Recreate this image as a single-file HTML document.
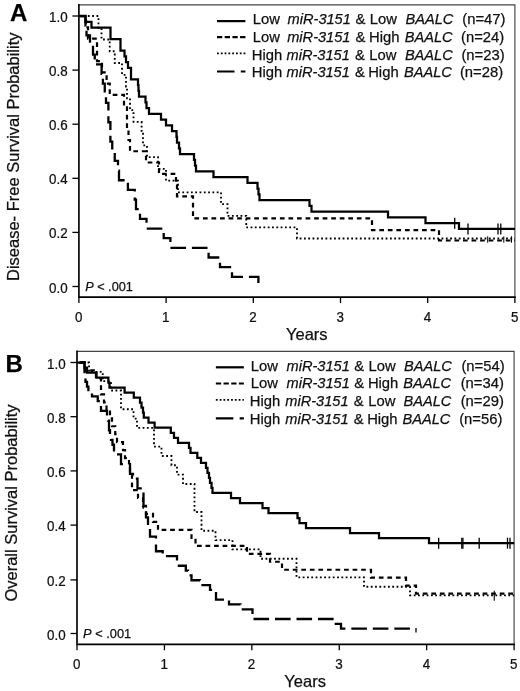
<!DOCTYPE html>
<html lang="en"><head><meta charset="utf-8"><title>Survival curves</title>
<style>html,body{margin:0;padding:0;background:#fff}svg{display:block}text{stroke:#111;stroke-width:.25px}</style></head>
<body>
<svg width="520" height="691" viewBox="0 0 520 691" font-family="'Liberation Sans', Arial, sans-serif" fill="#111">
<rect width="520" height="691" fill="#fff"/>
<path d="M78.90 4.90 H514.90 V297.10" fill="none" stroke="#444" stroke-width="1.15"/><path d="M78.90 4.90 V297.10 H514.90" fill="none" stroke="#000" stroke-width="1.65" stroke-linecap="square"/><line x1="72.40" x2="78.90" y1="16.00" y2="16.00" stroke="#000" stroke-width="1.3"/><text transform="translate(67.60,22.00) scale(0.93,1)" text-anchor="end" font-size="14.4">1.0</text><line x1="72.40" x2="78.90" y1="70.10" y2="70.10" stroke="#000" stroke-width="1.3"/><text transform="translate(67.60,76.10) scale(0.93,1)" text-anchor="end" font-size="14.4">0.8</text><line x1="72.40" x2="78.90" y1="124.20" y2="124.20" stroke="#000" stroke-width="1.3"/><text transform="translate(67.60,130.20) scale(0.93,1)" text-anchor="end" font-size="14.4">0.6</text><line x1="72.40" x2="78.90" y1="178.30" y2="178.30" stroke="#000" stroke-width="1.3"/><text transform="translate(67.60,184.30) scale(0.93,1)" text-anchor="end" font-size="14.4">0.4</text><line x1="72.40" x2="78.90" y1="232.40" y2="232.40" stroke="#000" stroke-width="1.3"/><text transform="translate(67.60,238.40) scale(0.93,1)" text-anchor="end" font-size="14.4">0.2</text><line x1="72.40" x2="78.90" y1="286.50" y2="286.50" stroke="#000" stroke-width="1.3"/><text transform="translate(67.60,292.50) scale(0.93,1)" text-anchor="end" font-size="14.4">0.0</text><line x1="78.90" x2="78.90" y1="297.10" y2="303.10" stroke="#000" stroke-width="1.3"/><text transform="translate(78.60,321.70) scale(0.93,1)" text-anchor="middle" font-size="14.4">0</text><line x1="166.10" x2="166.10" y1="297.10" y2="303.10" stroke="#000" stroke-width="1.3"/><text transform="translate(165.80,321.70) scale(0.93,1)" text-anchor="middle" font-size="14.4">1</text><line x1="253.30" x2="253.30" y1="297.10" y2="303.10" stroke="#000" stroke-width="1.3"/><text transform="translate(253.00,321.70) scale(0.93,1)" text-anchor="middle" font-size="14.4">2</text><line x1="340.50" x2="340.50" y1="297.10" y2="303.10" stroke="#000" stroke-width="1.3"/><text transform="translate(340.20,321.70) scale(0.93,1)" text-anchor="middle" font-size="14.4">3</text><line x1="427.70" x2="427.70" y1="297.10" y2="303.10" stroke="#000" stroke-width="1.3"/><text transform="translate(427.40,321.70) scale(0.93,1)" text-anchor="middle" font-size="14.4">4</text><line x1="514.90" x2="514.90" y1="297.10" y2="303.10" stroke="#000" stroke-width="1.3"/><text transform="translate(514.60,321.70) scale(0.93,1)" text-anchor="middle" font-size="14.4">5</text>
<path d="M78.90 16.00 H98.50 V27.76 H101.50 V39.52 H109.75 V51.28 H114.75 V63.04 H122.00 V74.80 H126.00 V86.57 H127.00 V98.33 H130.00 V110.09 H133.50 V121.85 H141.60 V133.61 H143.00 V145.37 H147.00 V157.13 H158.00 V168.89 H166.00 V180.65 H178.00 V192.41 H221.00 V204.17 H227.50 V215.93 H246.25 V227.40 H297.00 V238.50 H514.90" fill="none" stroke="#000" stroke-width="1.85" stroke-dasharray="1.8 2.5" stroke-dashoffset="3.95"/>
<path d="M78.90 16.00 H86.00 V27.27 H88.00 V38.54 H97.00 V61.08 H102.00 V72.35 H106.60 V83.62 H109.75 V94.90 H124.00 V106.17 H127.00 V128.71 H128.50 V139.98 H130.00 V151.25 H146.00 V162.52 H159.00 V173.79 H176.00 V185.06 H177.00 V196.33 H193.00 V218.40 H372.00 V230.15 H439.00 V240.50 H514.90" fill="none" stroke="#000" stroke-width="2.2" stroke-dasharray="4.7 3.85" stroke-dashoffset="7.00"/>
<path d="M78.90 16.00 H85.50 V25.66 H86.50 V35.32 H90.00 V44.98 H93.00 V54.64 H94.75 V64.30 H101.60 V73.96 H102.90 V83.62 H104.75 V93.29 H106.00 V102.95 H108.40 V122.27 H110.40 V141.59 H112.25 V151.25 H114.75 V160.91 H118.00 V170.57 H119.00 V180.23 H127.90 V189.89 H134.75 V199.55 H136.00 V209.21 H140.00 V218.88 H146.50 V228.54 H163.70 V238.20 H170.40 V247.86 H208.60 V257.52 H220.00 V267.18 H232.00 V276.84 H258.40 V284.00" fill="none" stroke="#000" stroke-width="2.3" stroke-dasharray="15.6 5.9" stroke-dashoffset="20.64"/>
<path d="M78.90 16.00 H85.50 V21.76 H91.50 V27.51 H110.50 V39.02 H120.50 V50.53 H124.50 V56.29 H126.00 V62.04 H128.00 V67.80 H131.00 V79.31 H138.00 V85.06 H138.50 V90.82 H139.00 V96.57 H145.50 V102.33 H146.50 V108.09 H149.00 V113.84 H161.00 V119.60 H166.00 V125.35 H172.00 V131.11 H176.50 V136.86 H177.00 V142.62 H179.00 V148.37 H180.00 V154.13 H194.00 V159.88 H195.00 V165.64 H196.00 V171.39 H213.50 V177.15 H247.50 V182.90 H257.50 V188.66 H258.50 V194.41 H259.50 V200.17 H309.50 V205.93 H311.50 V211.68 H388.00 V217.44 H425.50 V223.19 H459.00 V228.95 H514.90" fill="none" stroke="#000" stroke-width="2.25" stroke-linejoin="miter"/>
<line x1="454.70" x2="454.70" y1="217.69" y2="228.69" stroke="#000" stroke-width="1.3"/><line x1="468.00" x2="468.00" y1="223.45" y2="234.45" stroke="#000" stroke-width="1.3"/><line x1="498.00" x2="498.00" y1="223.45" y2="234.45" stroke="#000" stroke-width="1.3"/><line x1="500.80" x2="500.80" y1="223.45" y2="234.45" stroke="#000" stroke-width="1.3"/>
<line x1="487.70" x2="487.70" y1="236.30" y2="242.70" stroke="#000" stroke-width="1"/><line x1="503.80" x2="503.80" y1="236.30" y2="242.70" stroke="#000" stroke-width="1"/><line x1="511.50" x2="511.50" y1="236.30" y2="242.70" stroke="#000" stroke-width="1"/>
<path d="M217.00 21.10 H245.40" fill="none" stroke="#000" stroke-width="2.25" stroke-linejoin="miter"/><text x="252.80" y="24.20" font-size="14.8">Low</text><text x="287.60" y="24.20" font-size="14.6" font-style="italic">miR-3151</text><text x="355.45" y="24.20" font-size="14.8">&amp;</text><text x="369.80" y="24.20" font-size="14.8">Low</text><text x="405.50" y="24.20" font-size="14.6" font-style="italic">BAALC</text><text x="462.25" y="24.20" font-size="14.8">(n=47)</text><path d="M217.00 37.20 H245.40" fill="none" stroke="#000" stroke-width="2.2" stroke-dasharray="5.3 2.4"/><text x="252.80" y="41.50" font-size="14.8">Low</text><text x="287.20" y="41.50" font-size="14.6" font-style="italic">miR-3151</text><text x="355.45" y="41.50" font-size="14.8">&amp;</text><text x="369.00" y="41.50" font-size="14.8">High</text><text x="404.70" y="41.50" font-size="14.6" font-style="italic">BAALC</text><text x="461.00" y="41.50" font-size="14.8">(n=24)</text><path d="M217.00 53.40 H245.40" fill="none" stroke="#000" stroke-width="1.9" stroke-dasharray="1.8 2.0"/><text x="251.80" y="59.50" font-size="14.8">High</text><text x="286.50" y="59.50" font-size="14.6" font-style="italic">miR-3151</text><text x="355.00" y="59.50" font-size="14.8">&amp;</text><text x="369.30" y="59.50" font-size="14.8">Low</text><text x="404.90" y="59.50" font-size="14.6" font-style="italic">BAALC</text><text x="461.45" y="59.50" font-size="14.8">(n=23)</text><path d="M217.00 71.50 H245.40" fill="none" stroke="#000" stroke-width="2.1" stroke-dasharray="17.5 6.3 4.6 20"/><text x="251.80" y="77.30" font-size="14.8">High</text><text x="286.60" y="77.30" font-size="14.6" font-style="italic">miR-3151</text><text x="355.00" y="77.30" font-size="14.8">&amp;</text><text x="368.20" y="77.30" font-size="14.8">High</text><text x="403.95" y="77.30" font-size="14.6" font-style="italic">BAALC</text><text x="459.95" y="77.30" font-size="14.8">(n=28)</text>
<text x="10" y="20.9" font-size="24" font-weight="bold" fill="#000">A</text>
<text transform="translate(18.7,281.0) rotate(-90)" font-size="16.5">Disease- Free Survival Probability</text>
<text x="286" y="340" font-size="16.5">Years</text>
<text x="85.2" y="290.8" font-size="12.7"><tspan font-style="italic">P</tspan> &lt; .001</text>
<path d="M77.00 351.40 H514.10 V644.30" fill="none" stroke="#444" stroke-width="1.15"/><path d="M77.00 351.40 V644.30 H514.10" fill="none" stroke="#000" stroke-width="1.65" stroke-linecap="square"/><line x1="70.50" x2="77.00" y1="362.50" y2="362.50" stroke="#000" stroke-width="1.3"/><text transform="translate(65.70,368.50) scale(0.93,1)" text-anchor="end" font-size="14.4">1.0</text><line x1="70.50" x2="77.00" y1="416.70" y2="416.70" stroke="#000" stroke-width="1.3"/><text transform="translate(65.70,422.70) scale(0.93,1)" text-anchor="end" font-size="14.4">0.8</text><line x1="70.50" x2="77.00" y1="470.90" y2="470.90" stroke="#000" stroke-width="1.3"/><text transform="translate(65.70,476.90) scale(0.93,1)" text-anchor="end" font-size="14.4">0.6</text><line x1="70.50" x2="77.00" y1="525.10" y2="525.10" stroke="#000" stroke-width="1.3"/><text transform="translate(65.70,531.10) scale(0.93,1)" text-anchor="end" font-size="14.4">0.4</text><line x1="70.50" x2="77.00" y1="579.90" y2="579.90" stroke="#000" stroke-width="1.3"/><text transform="translate(65.70,585.90) scale(0.93,1)" text-anchor="end" font-size="14.4">0.2</text><line x1="70.50" x2="77.00" y1="633.50" y2="633.50" stroke="#000" stroke-width="1.3"/><text transform="translate(65.70,639.50) scale(0.93,1)" text-anchor="end" font-size="14.4">0.0</text><line x1="77.00" x2="77.00" y1="644.30" y2="650.30" stroke="#000" stroke-width="1.3"/><text transform="translate(76.70,668.80) scale(0.93,1)" text-anchor="middle" font-size="14.4">0</text><line x1="164.42" x2="164.42" y1="644.30" y2="650.30" stroke="#000" stroke-width="1.3"/><text transform="translate(164.12,668.80) scale(0.93,1)" text-anchor="middle" font-size="14.4">1</text><line x1="251.84" x2="251.84" y1="644.30" y2="650.30" stroke="#000" stroke-width="1.3"/><text transform="translate(251.54,668.80) scale(0.93,1)" text-anchor="middle" font-size="14.4">2</text><line x1="339.26" x2="339.26" y1="644.30" y2="650.30" stroke="#000" stroke-width="1.3"/><text transform="translate(338.96,668.80) scale(0.93,1)" text-anchor="middle" font-size="14.4">3</text><line x1="426.68" x2="426.68" y1="644.30" y2="650.30" stroke="#000" stroke-width="1.3"/><text transform="translate(426.38,668.80) scale(0.93,1)" text-anchor="middle" font-size="14.4">4</text><line x1="514.10" x2="514.10" y1="644.30" y2="650.30" stroke="#000" stroke-width="1.3"/><text transform="translate(513.80,668.80) scale(0.93,1)" text-anchor="middle" font-size="14.4">5</text>
<path d="M77.00 362.50 H89.00 V371.84 H102.75 V381.19 H111.00 V390.53 H121.00 V409.22 H133.50 V418.57 H137.00 V427.91 H154.00 V446.60 H161.50 V455.95 H171.50 V465.29 H177.00 V474.64 H183.00 V483.98 H194.50 V512.02 H201.50 V530.71 H215.50 V540.05 H232.50 V549.40 H260.50 V558.74 H296.50 V577.43 H364.00 V586.78 H410.00 V595.40 H514.10" fill="none" stroke="#000" stroke-width="1.85" stroke-dasharray="1.8 2.5" stroke-dashoffset="2.27"/>
<path d="M77.00 362.50 H85.00 V370.47 H96.00 V378.44 H101.00 V394.38 H104.00 V402.35 H106.50 V410.32 H110.00 V418.29 H112.00 V426.26 H115.25 V434.24 H117.00 V442.21 H123.00 V450.18 H125.00 V458.15 H129.00 V466.12 H130.00 V474.09 H132.00 V490.03 H138.00 V498.00 H143.00 V505.97 H146.00 V513.94 H153.00 V521.91 H158.00 V529.88 H191.50 V537.85 H195.50 V545.82 H247.00 V553.79 H270.00 V561.76 H282.00 V569.74 H371.00 V577.71 H406.00 V585.68 H416.00 V593.60 H514.10" fill="none" stroke="#000" stroke-width="2.2" stroke-dasharray="4.7 3.85" stroke-dashoffset="4.51"/>
<path d="M77.00 362.50 H84.50 V372.18 H85.50 V381.86 H87.00 V386.70 H88.40 V391.54 H92.00 V396.38 H97.75 V401.21 H101.00 V410.89 H107.00 V415.73 H108.00 V420.57 H109.00 V430.25 H110.00 V435.09 H111.00 V439.93 H112.50 V444.77 H114.00 V454.45 H121.00 V464.12 H130.00 V473.80 H133.00 V478.64 H137.50 V488.32 H143.50 V507.68 H146.00 V517.36 H148.00 V527.04 H150.00 V536.71 H156.00 V551.23 H162.70 V556.07 H177.00 V565.75 H185.80 V570.59 H188.00 V575.43 H191.50 V580.27 H200.00 V585.11 H210.00 V589.95 H216.00 V599.62 H229.00 V604.46 H240.50 V609.30 H252.50 V618.98 H334.00 V623.82 H341.00 V628.66 H411.00" fill="none" stroke="#000" stroke-width="2.3" stroke-dasharray="15.6 5.9" stroke-dashoffset="18.52"/>
<line x1="416" x2="416" y1="628" y2="632.5" stroke="#000" stroke-width="1.3"/>
<path d="M77.00 362.50 H84.60 V367.52 H87.00 V372.54 H96.50 V377.56 H108.40 V382.57 H109.50 V387.59 H124.60 V392.61 H133.80 V397.63 H140.00 V402.65 H141.50 V407.67 H143.00 V412.69 H143.80 V417.70 H148.50 V422.72 H154.60 V427.74 H170.80 V432.76 H174.00 V437.78 H178.00 V442.80 H189.00 V447.81 H190.50 V452.83 H197.30 V457.85 H201.00 V462.87 H206.00 V467.89 H207.50 V472.91 H209.00 V477.93 H210.00 V482.94 H211.50 V487.96 H212.50 V492.98 H231.00 V498.00 H240.00 V503.02 H262.50 V508.04 H268.50 V513.06 H297.50 V518.07 H299.50 V523.09 H306.00 V528.11 H350.00 V533.13 H379.00 V538.15 H429.00 V543.17 H514.10" fill="none" stroke="#000" stroke-width="2.25" stroke-linejoin="miter"/>
<line x1="438.65" x2="438.65" y1="537.67" y2="548.67" stroke="#000" stroke-width="1.3"/><line x1="461.80" x2="461.80" y1="537.67" y2="548.67" stroke="#000" stroke-width="1.3"/><line x1="462.90" x2="462.90" y1="537.67" y2="548.67" stroke="#000" stroke-width="1.3"/><line x1="479.20" x2="479.20" y1="537.67" y2="548.67" stroke="#000" stroke-width="1.3"/><line x1="507.50" x2="507.50" y1="537.67" y2="548.67" stroke="#000" stroke-width="1.3"/><line x1="510.00" x2="510.00" y1="537.67" y2="548.67" stroke="#000" stroke-width="1.3"/>
<line x1="494.25" x2="494.25" y1="590.80" y2="600.80" stroke="#000" stroke-width="1.1"/>
<path d="M215.85 367.30 H243.85" fill="none" stroke="#000" stroke-width="2.25" stroke-linejoin="miter"/><text x="250.80" y="370.85" font-size="14.8">Low</text><text x="286.50" y="370.85" font-size="14.6" font-style="italic">miR-3151</text><text x="354.20" y="370.85" font-size="14.8">&amp;</text><text x="368.50" y="370.85" font-size="14.8">Low</text><text x="403.95" y="370.85" font-size="14.6" font-style="italic">BAALC</text><text x="461.45" y="370.85" font-size="14.8">(n=54)</text><path d="M215.85 383.50 H243.85" fill="none" stroke="#000" stroke-width="2.2" stroke-dasharray="5.3 2.4"/><text x="250.80" y="388.10" font-size="14.8">Low</text><text x="286.50" y="388.10" font-size="14.6" font-style="italic">miR-3151</text><text x="354.20" y="388.10" font-size="14.8">&amp;</text><text x="367.90" y="388.10" font-size="14.8">High</text><text x="403.20" y="388.10" font-size="14.6" font-style="italic">BAALC</text><text x="460.70" y="388.10" font-size="14.8">(n=34)</text><path d="M215.85 399.90 H243.85" fill="none" stroke="#000" stroke-width="1.9" stroke-dasharray="1.8 2.0"/><text x="249.80" y="406.20" font-size="14.8">High</text><text x="285.30" y="406.20" font-size="14.6" font-style="italic">miR-3151</text><text x="353.75" y="406.20" font-size="14.8">&amp;</text><text x="368.20" y="406.20" font-size="14.8">Low</text><text x="403.50" y="406.20" font-size="14.6" font-style="italic">BAALC</text><text x="460.70" y="406.20" font-size="14.8">(n=29)</text><path d="M215.85 418.40 H243.85" fill="none" stroke="#000" stroke-width="2.1" stroke-dasharray="17.5 6.3 4.6 20"/><text x="249.80" y="424.20" font-size="14.8">High</text><text x="285.30" y="424.20" font-size="14.6" font-style="italic">miR-3151</text><text x="353.75" y="424.20" font-size="14.8">&amp;</text><text x="367.15" y="424.20" font-size="14.8">High</text><text x="402.45" y="424.20" font-size="14.6" font-style="italic">BAALC</text><text x="459.15" y="424.20" font-size="14.8">(n=56)</text>
<text x="5.5" y="371.8" font-size="24" font-weight="bold" fill="#000">B</text>
<text transform="translate(16.5,601.6) rotate(-90)" font-size="16.5">Overall Survival Probability</text>
<text x="284.3" y="687.3" font-size="16.5">Years</text>
<text x="83.1" y="637.8" font-size="12.8"><tspan font-style="italic">P</tspan> &lt; .001</text>
</svg>
</body></html>
